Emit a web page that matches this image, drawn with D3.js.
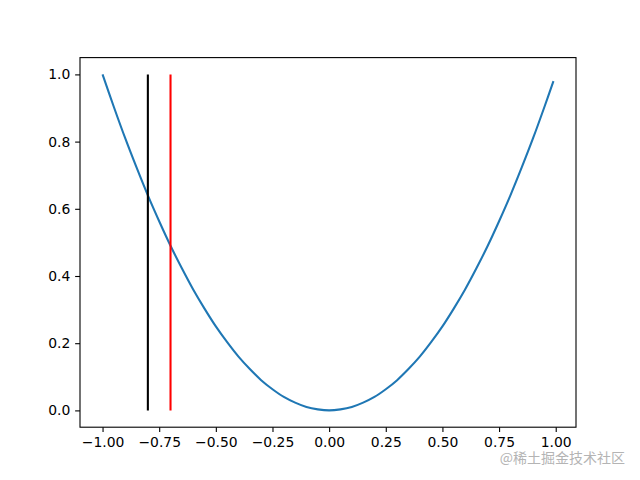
<!DOCTYPE html>
<html>
<head>
<meta charset="utf-8">
<script src="https://cdn.jsdelivr.net/npm/d3@7"></script>
<style>
  body { margin: 0; background: #fff; }
  svg text { font-family: "DejaVu Sans", sans-serif; }
</style>
</head>
<body>
<svg id="chart" width="640" height="480"></svg>
<script>
// curve points (parabola through the origin)
var curveX = [-1.00, -0.95, -0.90, -0.85, -0.80, -0.75, -0.70, -0.65, -0.60, -0.55,
              -0.50, -0.45, -0.40, -0.35, -0.30, -0.25, -0.20, -0.15, -0.10, -0.05,
               0.00,  0.05,  0.10,  0.15,  0.20,  0.25,  0.30,  0.35,  0.40,  0.45,
               0.50,  0.55,  0.60,  0.65,  0.70,  0.75,  0.80,  0.85,  0.90,  0.95, 0.99];
var curveY = [1.000, 0.903, 0.810, 0.723, 0.640, 0.563, 0.490, 0.423, 0.360, 0.303,
              0.250, 0.203, 0.160, 0.123, 0.090, 0.063, 0.040, 0.023, 0.010, 0.003,
              0.000, 0.003, 0.010, 0.023, 0.040, 0.063, 0.090, 0.123, 0.160, 0.203,
              0.250, 0.303, 0.360, 0.423, 0.490, 0.563, 0.640, 0.723, 0.810, 0.903, 0.980];

// vertical markers
var vlineX = [-0.8, -0.7];
var vlineColor = ['black', 'red'];
var vlineY = [0, 1];

var xTicks = [-1.00, -0.75, -0.50, -0.25, 0.00, 0.25, 0.50, 0.75, 1.00];
var yTicks = [0.0, 0.2, 0.4, 0.6, 0.8, 1.0];

var svg = d3.select("#chart");
var axLeft = 80, axRight = 576, axTop = 57.6, axBottom = 427.2;

var x = d3.scaleLinear().domain([-1.0995, 1.0895]).range([axLeft, axRight]);
var y = d3.scaleLinear().domain([-0.05, 1.05]).range([axBottom, axTop]);

var fmtX = function(d) { return d3.format(".2f")(d).replace("-", "\u2212"); };
var fmtY = function(d) { return d3.format(".1f")(d); };

// curve
var pts = curveX.map(function(d, i) { return [d, curveY[i]]; });
svg.append("path")
  .datum(pts)
  .attr("d", d3.line()
    .x(function(d) { return x(d[0]); })
    .y(function(d) { return y(d[1]); })
    .curve(d3.curveCatmullRom))
  .attr("fill", "none")
  .attr("stroke", "#1f77b4")
  .attr("stroke-width", 2.08);

// vertical lines
svg.selectAll(".vline")
  .data(vlineX)
  .enter()
  .append("line")
  .attr("class", "vline")
  .attr("x1", function(d) { return x(d); })
  .attr("x2", function(d) { return x(d); })
  .attr("y1", y(vlineY[0]))
  .attr("y2", y(vlineY[1]))
  .attr("stroke", function(d, i) { return vlineColor[i]; })
  .attr("stroke-width", 2.08);

// axes
var xAxis = d3.axisBottom(x).tickValues(xTicks).tickFormat(fmtX).tickSize(4.86).tickPadding(4.86);
var yAxis = d3.axisLeft(y).tickValues(yTicks).tickFormat(fmtY).tickSize(4.86).tickPadding(4.86);

var gx = svg.append("g").attr("transform", "translate(0," + axBottom + ")").call(xAxis);
var gy = svg.append("g").attr("transform", "translate(" + axLeft + ",0)").call(yAxis);
[gx, gy].forEach(function(g) {
  g.select(".domain").remove();
  g.selectAll("line").attr("stroke", "black").attr("stroke-width", 1.1);
  g.selectAll("text").attr("fill", "black").style("font-size", "13.9px")
    .style("font-family", "'DejaVu Sans', sans-serif");
});

// frame
svg.append("rect")
  .attr("x", axLeft).attr("y", axTop)
  .attr("width", axRight - axLeft).attr("height", axBottom - axTop)
  .attr("fill", "none").attr("stroke", "black").attr("stroke-width", 1.1);

// watermark
svg.append("text")
  .attr("x", 625).attr("y", 463)
  .attr("text-anchor", "end")
  .style("font-family", "'Noto Sans CJK SC', sans-serif")
  .style("font-size", "14px")
  .attr("fill", "#b4b4b4")
  .text("@稀土掘金技术社区");
</script>
</body>
</html>
